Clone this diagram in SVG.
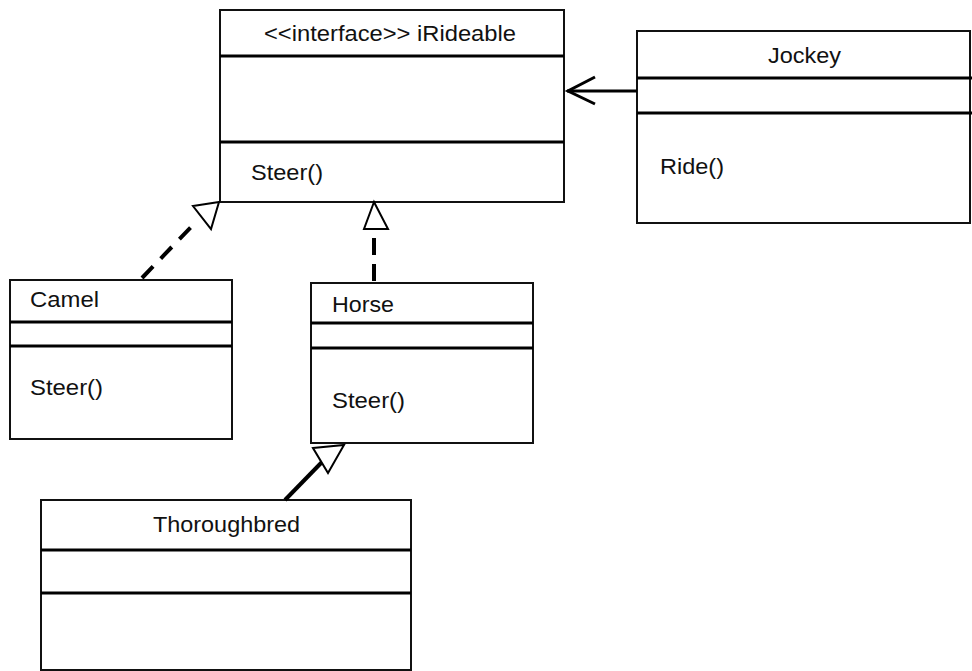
<svg xmlns="http://www.w3.org/2000/svg" width="972" height="671" viewBox="0 0 972 671">
<style>
.box{fill:#fff;stroke:#111;stroke-width:2}
.div{stroke:#000;stroke-width:3}
.t{font-family:"Liberation Sans",Arial,sans-serif;font-size:22px;fill:#111}
.dash{stroke:#000;stroke-width:4;fill:none}
.tri{fill:#fff;stroke:#000;stroke-width:2;stroke-linejoin:miter}
</style>
<rect width="972" height="671" fill="#fff"/>
<g id="iRideable">
<rect class="box" x="220" y="10" width="344" height="192"/>
<line class="div" x1="220" y1="56" x2="564" y2="56"/>
<line class="div" x1="220" y1="142" x2="564" y2="142"/>
<text class="t" x="264" y="41" textLength="252" lengthAdjust="spacingAndGlyphs">&lt;&lt;interface&gt;&gt; iRideable</text>
<text class="t" x="251" y="180" textLength="72" lengthAdjust="spacingAndGlyphs">Steer()</text>
</g>
<g id="Jockey">
<rect class="box" x="637" y="31" width="333" height="192"/>
<line class="div" x1="637" y1="78" x2="972" y2="78"/>
<line class="div" x1="637" y1="113" x2="972" y2="113"/>
<text class="t" x="768" y="63" textLength="73" lengthAdjust="spacingAndGlyphs">Jockey</text>
<text class="t" x="660" y="174" textLength="64" lengthAdjust="spacingAndGlyphs">Ride()</text>
</g>
<g id="Camel">
<rect class="box" x="10" y="280" width="222" height="159"/>
<line class="div" x1="10" y1="322" x2="232" y2="322"/>
<line class="div" x1="10" y1="346" x2="232" y2="346"/>
<text class="t" x="30" y="307" textLength="69" lengthAdjust="spacingAndGlyphs">Camel</text>
<text class="t" x="30" y="395" textLength="73" lengthAdjust="spacingAndGlyphs">Steer()</text>
</g>
<g id="Horse">
<rect class="box" x="311" y="283" width="222" height="160"/>
<line class="div" x1="311" y1="323" x2="533" y2="323"/>
<line class="div" x1="311" y1="348" x2="533" y2="348"/>
<text class="t" x="332" y="312" textLength="62" lengthAdjust="spacingAndGlyphs">Horse</text>
<text class="t" x="332" y="408" textLength="73" lengthAdjust="spacingAndGlyphs">Steer()</text>
</g>
<g id="Thoroughbred">
<rect class="box" x="41" y="500" width="370" height="170"/>
<line class="div" x1="41" y1="550" x2="411" y2="550"/>
<line class="div" x1="41" y1="593" x2="411" y2="593"/>
<text class="t" x="153" y="532" textLength="147" lengthAdjust="spacingAndGlyphs">Thoroughbred</text>
</g>
<g id="connectors">
<line class="dash" x1="142" y1="278" x2="191" y2="227" stroke-dasharray="16 11"/>
<polygon class="tri" points="193,206 219,202 211,229"/>
<line class="dash" x1="374" y1="281" x2="374" y2="230" stroke-dasharray="17 9"/>
<polygon class="tri" points="374,202 364,229 388,229"/>
<line class="dash" x1="285" y1="500" x2="322" y2="462"/>
<polygon class="tri" points="313,448 344,445 328,473"/>
<line stroke="#000" stroke-width="3" x1="567" y1="91" x2="637" y2="91"/>
<polyline fill="none" stroke="#000" stroke-width="3" points="595,77 568,91 595,104"/>
</g>
</svg>
